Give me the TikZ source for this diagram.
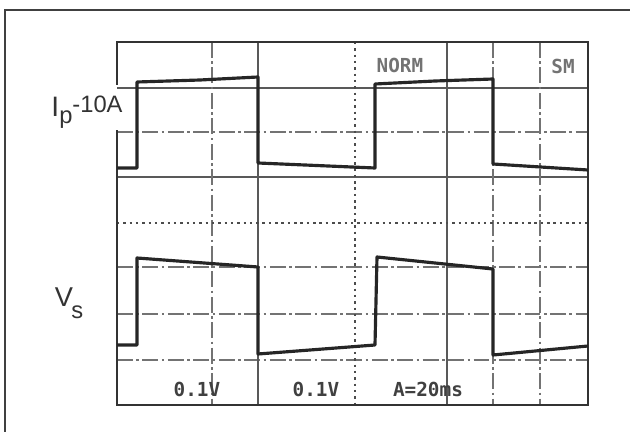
\documentclass[tikz,border=0pt]{standalone}
\usepackage{fontspec}
\setmainfont{Liberation Sans}
\setmonofont{DejaVu Sans Mono}
\begin{document}
\begin{tikzpicture}[x=0.02cm,y=-0.02cm,
    trace/.style={line width=1.8pt,black!85,line join=round},
    screen/.style={line width=1.5pt,black!80},
    gridsolid/.style={line width=0.8pt,black!65},
    griddash/.style={line width=0.8pt,black!55,dash pattern=on 9pt off 2pt on 1.5pt off 2pt},
    gridcenter/.style={line width=1.5pt,black!70,dash pattern=on 1.4pt off 2.2pt},
    chlabel/.style={font=\fontsize{13.5}{15}\selectfont,text=black!80,inner sep=0pt},
    scopetext/.style={font=\ttfamily\bfseries\fontsize{11}{12}\selectfont,text=black!75,inner sep=0pt}]
    \useasboundingbox (0,0) rectangle (630,432);
    \draw[line width=0.6pt,black!75] (5,432) -- (5,10) -- (630,10);
    % grid
    \foreach \y in {88,177}
        \draw[gridsolid] (117,\y) -- (588,\y);
    \foreach \y in {132,267,314,360}
        \draw[griddash] (117,\y) -- (588,\y);
    \foreach \x in {212,493,540}
        \draw[griddash] (\x,42) -- (\x,405);
    \foreach \x in {258,447}
        \draw[gridsolid] (\x,42) -- (\x,405);
    \draw[gridcenter] (117,223) -- (588,223);
    \draw[gridcenter] (355,42) -- (355,405);
    % screen
    \draw[screen] (117,85) -- (117,42) -- (588,42) -- (588,405) -- (117,405) -- (117,130);
    % traces
    \draw[trace] (117,168) -- (137,168) -- (137,82) -- (200,80) -- (258,77) -- (258,163)
        -- (375,168) -- (375,84) -- (435,81) -- (493,79) -- (493,164) -- (588,170);
    \draw[trace] (117,345) -- (137,345) -- (137,258) -- (258,267) -- (258,354)
        -- (375,345) -- (377,257) -- (493,269) -- (493,355) -- (588,346);
    % labels
    \node[chlabel] (iplabel) at (87,112)
        {\raisebox{-2.5pt}{\fontsize{16}{17}\selectfont I}\raisebox{-6pt}{p}-10A};
    \node[chlabel] (vslabel) at (69,303)
        {\fontsize{15.5}{16}\selectfont V\kern-1pt\raisebox{-7pt}{\fontsize{13.5}{14}\selectfont s}};
    \node[scopetext,text=black!55] (normtext) at (400,65) {NORM};
    \node[scopetext,text=black!55] (smtext) at (563,66) {SM};
    \node[scopetext] (chone) at (197,389) {0.1V};
    \node[scopetext] (chtwo) at (316,389) {0.1V};
    \node[scopetext] (timebase) at (428,389) {A=20ms};
\end{tikzpicture}
\end{document}
